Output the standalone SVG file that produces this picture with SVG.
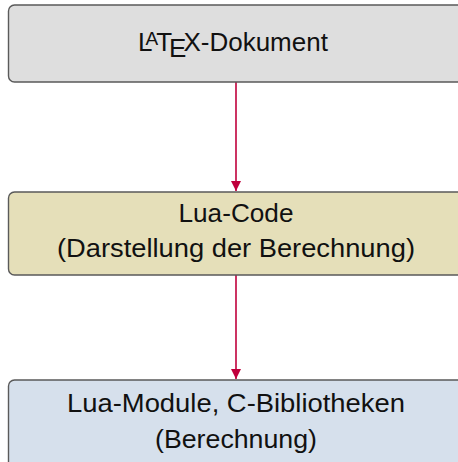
<svg xmlns="http://www.w3.org/2000/svg" width="458" height="462" viewBox="0 0 458 462">
<defs>
<style>
.box{stroke:#5a5a5a;stroke-width:1.4}
.t{font-family:"Liberation Sans","DejaVu Sans",sans-serif;font-size:26px;fill:#111;text-anchor:middle}
.tl{font-family:"Liberation Sans","DejaVu Sans",sans-serif;font-size:26px;fill:#111}
.c{stroke:#c0003c;stroke-width:1.6;fill:none}
</style>
<marker id="ah" viewBox="0 0 10 10" refX="10" refY="5" markerWidth="10" markerHeight="10" markerUnits="userSpaceOnUse" orient="auto">
<path d="M0,0 L10,5 L0,10 Z" fill="#c0003c"/>
</marker>
</defs>
<rect width="458" height="462" fill="#ffffff"/>
<g id="connectors">
<line class="c" x1="236" y1="82" x2="236" y2="191" marker-end="url(#ah)"/>
<line class="c" x1="236" y1="275" x2="236" y2="379" marker-end="url(#ah)"/>
</g>
<g id="latex">
<rect class="box" x="8.5" y="5" width="455" height="77" rx="6" fill="#dedede"/>
<text class="tl" x="138" y="51"><tspan>L</tspan><tspan dx="-7" dy="-6" font-size="19">A</tspan><tspan dx="-2" dy="6">T</tspan><tspan dx="-3" dy="6">E</tspan><tspan dx="-3" dy="-6">X-Dokument</tspan></text>
</g>
<g id="luacode">
<rect class="box" x="8.5" y="192" width="455" height="83" rx="6" fill="#e5dfb9"/>
<text class="t" x="236" y="222" textLength="115" lengthAdjust="spacingAndGlyphs">Lua-Code</text>
<text class="t" x="236" y="257" textLength="358" lengthAdjust="spacingAndGlyphs">(Darstellung der Berechnung)</text>
</g>
<g id="luamodule">
<rect class="box" x="8.5" y="380" width="455" height="95" rx="6" fill="#d6e0ec"/>
<text class="t" x="236" y="412" textLength="338" lengthAdjust="spacingAndGlyphs">Lua-Module, C-Bibliotheken</text>
<text class="t" x="236" y="448" textLength="162" lengthAdjust="spacingAndGlyphs">(Berechnung)</text>
</g>
</svg>
